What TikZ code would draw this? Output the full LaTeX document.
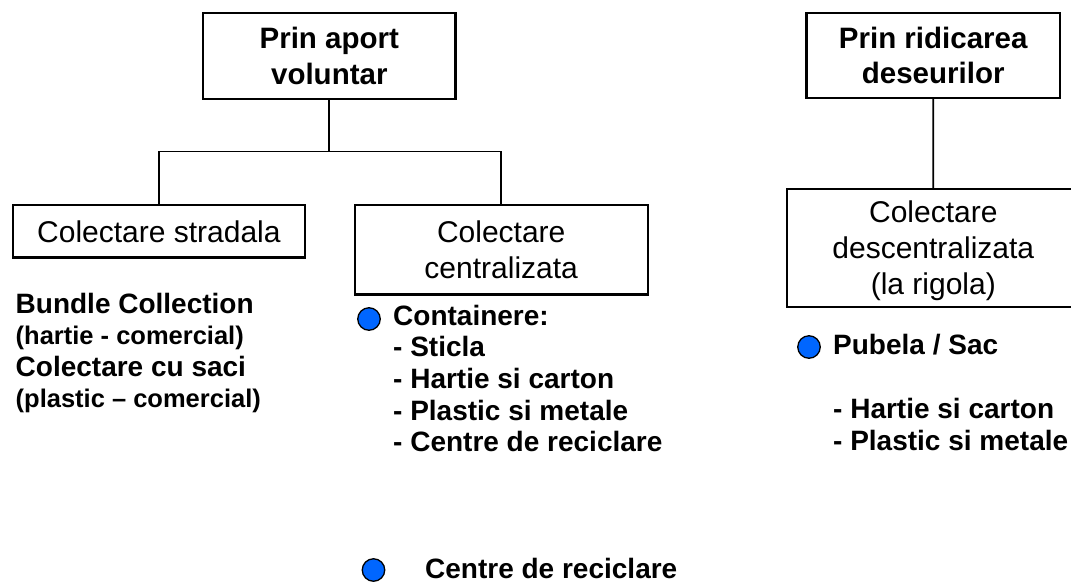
\documentclass[tikz,border=0pt]{standalone}
\usepackage{fontspec}
\setmainfont{Liberation Sans}
\definecolor{bulletblue}{RGB}{0,102,255}
\begin{document}
\begin{tikzpicture}[x=1pt,y=-1pt,
  box/.style={draw,line width=2.3pt,inner sep=0pt,outer sep=0pt,align=center,text depth=0pt,font=\fontsize{30}{36}\selectfont},
  titlebox/.style={box,font=\fontsize{29.5}{35.5}\selectfont\bfseries},
  link/.style={line width=1.8pt},
  bullet/.style={circle,draw,line width=1.3pt,fill=bulletblue,minimum size=22.5pt,inner sep=0pt},
  big/.style={anchor=base west,inner sep=0pt,font=\fontsize{28}{32}\selectfont\bfseries},
  small/.style={anchor=base west,inner sep=0pt,font=\fontsize{25.5}{30}\selectfont\bfseries}]
\useasboundingbox (0,0) rectangle (1071,582);
\clip (0,0) rectangle (1071,582);
% boxes
\node[titlebox,minimum width=252.6pt,minimum height=86pt] (vol) at (329.3,56) {Prin aport\\voluntar};
\node[box,minimum width=292.3pt,minimum height=52.6pt] (str) at (158.9,231.3) {Colectare stradala};
\node[box,minimum width=293pt,minimum height=89.4pt] (cen) at (501.2,249.7) {Colectare\\centralizata};
\node[titlebox,minimum width=253.3pt,minimum height=85pt] (rid) at (933.2,55.5) {Prin ridicarea\\deseurilor};
\node[box,minimum width=292.2pt,minimum height=118.5pt] (des) at (933.3,248) {Colectare\\descentralizata\\(la rigola)};
% connectors
\coordinate (j1) at (329.3,151.5);
\draw[link] (vol.south) -- (j1);
\draw[link] (str.north) |- (j1) -| (cen.north);
\draw[link] (rid.south) -- (des.north);
% left texts
\node[big] (bc) at (15.5,313.5) {Bundle Collection};
\node[small] (bc2) at (15.5,344.5) {(hartie - comercial)};
\node[big] (cs) at (15.5,376) {Colectare cu saci};
\node[small] (cs2) at (15.5,407) {(plastic – comercial)};
% centre list
\node[bullet] (bu1) at (369,319) {};
\node[big] (c1) at (393,325) {Containere:};
\node[big] (c2) at (393,356.7) {- Sticla};
\node[big] (c3) at (393,388.5) {- Hartie si carton};
\node[big] (c4) at (393,420) {- Plastic si metale};
\node[big] (c5) at (393,451.7) {- Centre de reciclare};
% right list
\node[bullet] (bu2) at (809,347) {};
\node[big] (r1) at (833,354) {Pubela / Sac};
\node[big] (r2) at (833,418.3) {- Hartie si carton};
\node[big] (r3) at (833,450) {- Plastic si metale};
% bottom
\node[bullet] (bu3) at (373.5,570) {};
\node[big] (cr) at (425,578) {Centre de reciclare};
\end{tikzpicture}
\end{document}
